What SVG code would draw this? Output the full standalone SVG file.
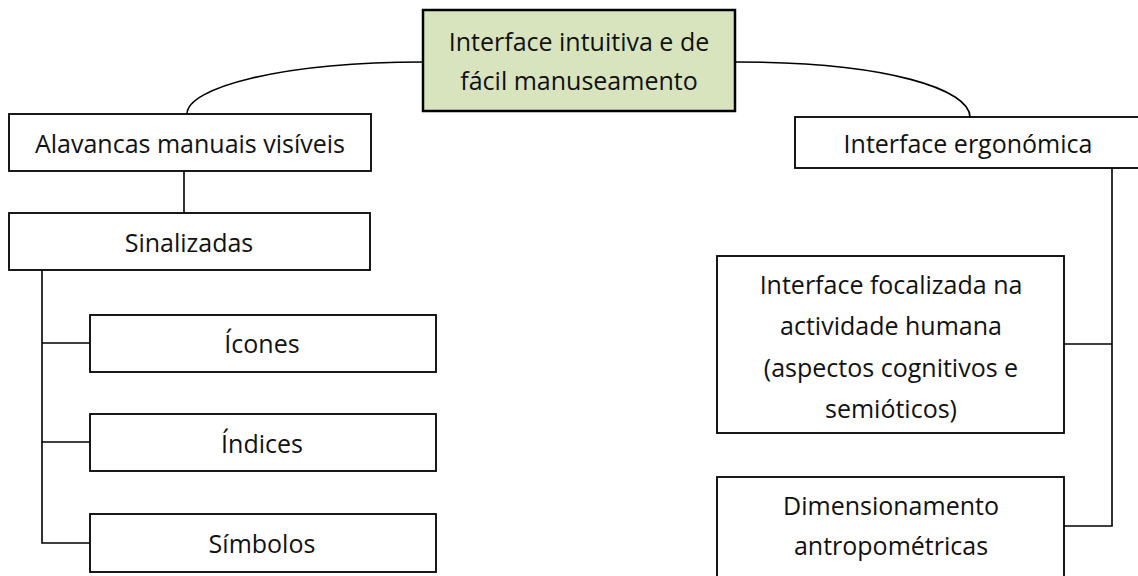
<svg xmlns="http://www.w3.org/2000/svg" width="1138" height="576" viewBox="0 0 1138 576">
  <style>
    .box { fill: #ffffff; stroke: #000000; stroke-width: 1.8; }
    .root { fill: #d7e4bd; stroke: #000000; stroke-width: 2.5; }
    .lbl { font-family: "Open Sans", "Noto Sans", "DejaVu Sans", sans-serif; font-size: 25px; fill: #111111; text-anchor: middle; }
    .wire { fill: none; stroke: #000000; stroke-width: 1.6; }
  </style>
  <rect width="1138" height="576" fill="#ffffff"/>

  <!-- connectors -->
  <g id="connectors">
    <path class="wire" d="M423,62 C280,62 187,88 187,114"/>
    <path class="wire" d="M735,62 C890,62 970,90 970,117"/>
    <line class="wire" x1="184" y1="171" x2="184" y2="213"/>
    <path class="wire" d="M42,270 V543 H90 M42,343 H90 M42,442 H90"/>
    <path class="wire" d="M1112,168 V526 H1064 M1112,344 H1064"/>
  </g>

  <g id="node-root">
    <rect class="root" x="423" y="10" width="312" height="101"/>
    <text class="lbl" x="579" y="51">Interface intuitiva e de</text>
    <text class="lbl" x="579" y="90">fácil manuseamento</text>
  </g>

  <g id="node-alavancas">
    <rect class="box" x="9" y="114" width="362" height="57"/>
    <text class="lbl" x="190" y="153">Alavancas manuais visíveis</text>
  </g>

  <g id="node-sinalizadas">
    <rect class="box" x="9" y="213" width="361" height="57"/>
    <text class="lbl" x="189" y="252">Sinalizadas</text>
  </g>

  <g id="node-icones">
    <rect class="box" x="90" y="315" width="346" height="57"/>
    <text class="lbl" x="262" y="353">Ícones</text>
  </g>

  <g id="node-indices">
    <rect class="box" x="90" y="414" width="346" height="57"/>
    <text class="lbl" x="262" y="453">Índices</text>
  </g>

  <g id="node-simbolos">
    <rect class="box" x="90" y="514" width="346" height="58"/>
    <text class="lbl" x="262" y="553">Símbolos</text>
  </g>

  <g id="node-ergonomica">
    <rect class="box" x="795" y="117" width="360" height="51"/>
    <text class="lbl" x="968" y="153">Interface ergonómica</text>
  </g>

  <g id="node-focalizada">
    <rect class="box" x="717" y="256" width="347" height="177"/>
    <text class="lbl" x="891" y="294">Interface focalizada na</text>
    <text class="lbl" x="891" y="335">actividade humana</text>
    <text class="lbl" x="891" y="377">(aspectos cognitivos e</text>
    <text class="lbl" x="891" y="418">semióticos)</text>
  </g>

  <g id="node-dimensionamento">
    <rect class="box" x="717" y="477" width="347" height="120"/>
    <text class="lbl" x="891" y="515">Dimensionamento</text>
    <text class="lbl" x="891" y="555">antropométricas</text>
  </g>
</svg>
